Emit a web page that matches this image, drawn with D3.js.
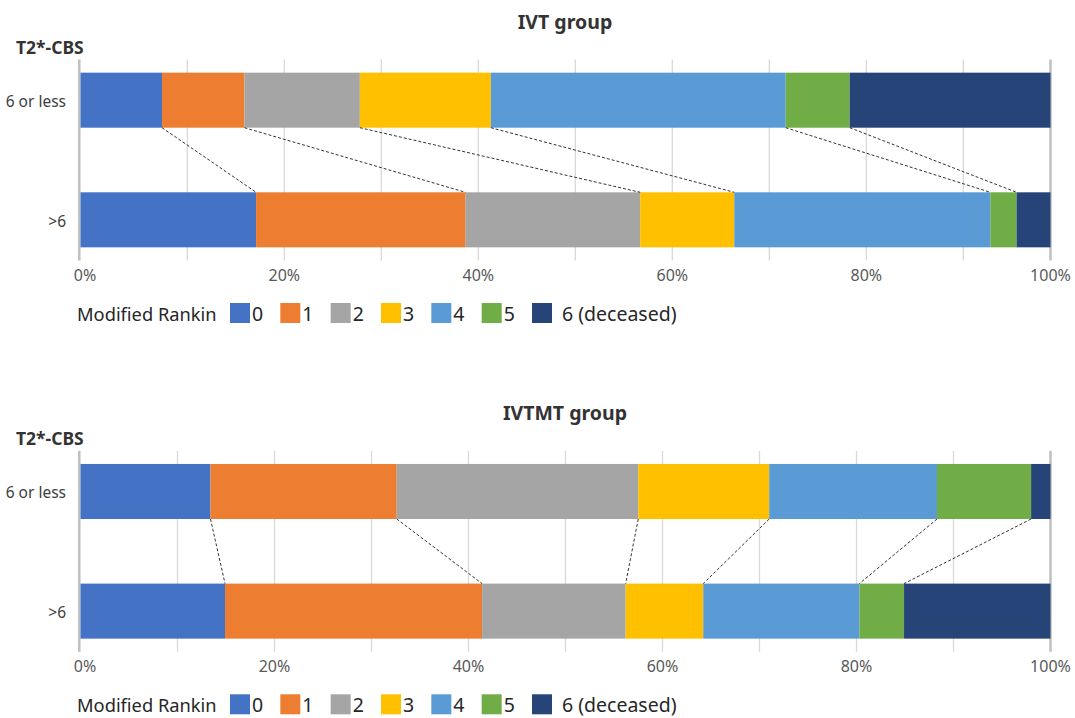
<!DOCTYPE html>
<html><head><meta charset="utf-8">
<script src="https://cdn.jsdelivr.net/npm/d3@7"></script>
<style>body{margin:0;background:#fff} svg{display:block;font-family:'Noto Sans',sans-serif}</style>
</head><body><svg id="c" width="1075" height="718"></svg>
<script>
// ---- data ----
const categories = ["6 or less", ">6"];
const rankinLabels = ["0", "1", "2", "3", "4", "5", "6 (deceased)"];
const tickValues = [0, 20, 40, 60, 80, 100];
const gridValues = [10, 20, 30, 40, 50, 60, 70, 80, 90];
const ivtLow = [8.4, 8.5, 11.9, 13.5, 30.4, 6.6, 20.7];
const ivtHigh = [18.1, 21.6, 18.0, 9.7, 26.4, 2.7, 3.5];
const ivtmtLow = [13.4, 19.2, 24.9, 13.5, 17.3, 9.7, 2.0];
const ivtmtHigh = [14.9, 26.5, 14.8, 8.0, 16.1, 4.6, 15.1];
const panelTitles = ["IVT group", "IVTMT group"];

// ---- styles ----
const colors = ["#4472C4", "#ED7D31", "#A5A5A5", "#FFC000", "#5B9BD5", "#70AD47", "#264478"];
const svg = d3.select("#c");
const xBar = d3.scaleLinear().domain([0, 100]).range([80.5, 1050.5]);

function panel(oy, title, low, high, gridShift) {
  const g = svg.append("g").attr("transform", `translate(0,${oy})`);
  const xGrid = d3.scaleLinear().domain([0, 100]).range([80.5 + gridShift, 1050.5 + gridShift]);
  const y = d3.scaleBand().domain(categories).range([59.5, 260.5]).paddingInner(0.54).paddingOuter(0.11);
  const gTop = 59.5, gBot = 260.5;

  // grid lines
  g.selectAll("line.grid").data(gridValues).join("line")
    .attr("x1", d => xGrid(d)).attr("x2", d => xGrid(d))
    .attr("y1", gTop).attr("y2", gBot)
    .attr("stroke", "#D9D9D9").attr("stroke-width", 1.3);
  // boundary lines
  g.selectAll("line.edge").data([0, 100]).join("line")
    .attr("x1", d => xBar(d) - (d === 0 ? 1.2 : 0)).attr("x2", d => xBar(d) - (d === 0 ? 1.2 : 0))
    .attr("y1", gTop).attr("y2", gBot)
    .attr("stroke", "#BFBFBF").attr("stroke-width", 2.5);

  // bars
  const rows = [low, high];
  rows.forEach((vals, r) => {
    const ends = Array.from(d3.cumsum(vals));
    const starts = ends.map((e, i) => e - vals[i]);
    g.selectAll(null).data(vals.map((v, i) => ({ i, s: starts[i], e: ends[i] }))).join("rect")
      .attr("x", d => xBar(d.s)).attr("width", d => xBar(d.e) - xBar(d.s))
      .attr("y", y(categories[r])).attr("height", y.bandwidth())
      .attr("fill", d => colors[d.i]);
  });

  // connectors
  const e0 = Array.from(d3.cumsum(low)), e1 = Array.from(d3.cumsum(high));
  g.selectAll(null).data(d3.range(6)).join("line")
    .attr("x1", i => xBar(e0[i])).attr("x2", i => xBar(e1[i]))
    .attr("y1", y(categories[0]) + y.bandwidth()).attr("y2", y(categories[1]))
    .attr("stroke", "#333333").attr("stroke-width", 1).attr("stroke-dasharray", "3,2");

  // category labels
  g.selectAll(null).data(categories).join("text")
    .attr("x", 66).attr("y", d => y(d) + y.bandwidth() / 2 + 7)
    .attr("text-anchor", "end").attr("font-size", 15.5).attr("fill", "#404040")
    .text(d => d);

  // tick labels
  g.selectAll(null).data(tickValues).join("text")
    .attr("x", d => (d === 0 ? xBar(d) + 4.5 : d === 100 ? xBar(d) : xGrid(d)))
    .attr("y", 280.5).attr("text-anchor", "middle").attr("font-size", 16).attr("fill", "#595959")
    .text(d => d + "%");

  // titles
  g.append("text").attr("x", 565).attr("y", 29).attr("text-anchor", "middle")
    .attr("font-size", 19.5).attr("font-weight", "bold").attr("fill", "#333333").text(title);
  g.append("text").attr("x", 16).attr("y", 54)
    .attr("font-size", 17.5).attr("font-weight", "bold").attr("fill", "#333333").text("T2*-CBS");

  // legend
  g.append("text").attr("x", 77).attr("y", 320.5).attr("font-size", 18.3).attr("fill", "#262626").text("Modified Rankin");
  const lx = d3.scaleLinear().domain([0, 6]).range([230, 532]);
  const items = g.selectAll(null).data(rankinLabels).join("g");
  items.append("rect").attr("x", (d, i) => lx(i)).attr("y", 303).attr("width", 20).attr("height", 20)
    .attr("fill", (d, i) => colors[i]);
  items.append("text").attr("x", (d, i) => lx(i) + (i === 6 ? 30 : 22)).attr("y", 320.5)
    .attr("font-size", 19.5).attr("fill", "#262626").text(d => d);
}

panel(0, panelTitles[0], ivtLow, ivtHigh, 9.8);
panel(391.3, panelTitles[1], ivtmtLow, ivtmtHigh, 0);
</script></body></html>
